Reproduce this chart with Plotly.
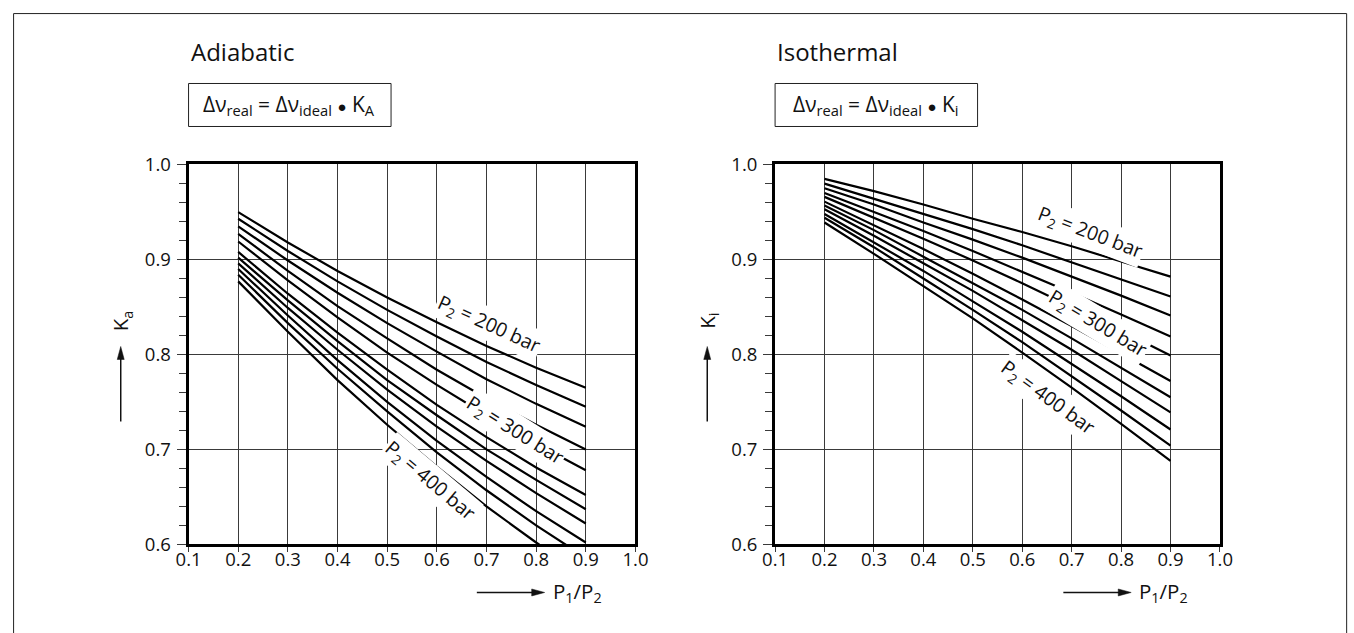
import plotly.graph_objects as go

# ---------------- data ----------------
p_ratio = [0.2, 0.3, 0.4, 0.5, 0.6, 0.7, 0.8, 0.9]

ka_200 = [0.950, 0.918, 0.888, 0.860, 0.834, 0.809, 0.786, 0.765]
ka_220 = [0.943, 0.909, 0.877, 0.847, 0.819, 0.792, 0.768, 0.745]
ka_240 = [0.935, 0.899, 0.865, 0.833, 0.803, 0.774, 0.748, 0.724]
ka_260 = [0.927, 0.888, 0.851, 0.817, 0.784, 0.754, 0.726, 0.700]
ka_280 = [0.919, 0.878, 0.839, 0.802, 0.768, 0.736, 0.706, 0.678]
ka_300 = [0.908, 0.864, 0.823, 0.784, 0.747, 0.713, 0.681, 0.652]
ka_320 = [0.902, 0.857, 0.814, 0.773, 0.736, 0.700, 0.668, 0.637]
ka_340 = [0.896, 0.849, 0.805, 0.763, 0.724, 0.688, 0.654, 0.622]
ka_360 = [0.890, 0.841, 0.794, 0.750, 0.709, 0.671, 0.635, 0.602]
ka_380 = [0.884, 0.833, 0.785, 0.740, 0.697, 0.657, 0.620, 0.586]
ka_400 = [0.877, 0.824, 0.773, 0.726, 0.682, 0.640, 0.602, 0.566]
ka_series = [ka_200, ka_220, ka_240, ka_260, ka_280, ka_300,
             ka_320, ka_340, ka_360, ka_380, ka_400]

ki_200 = [0.985, 0.972, 0.958, 0.943, 0.929, 0.914, 0.898, 0.882]
ki_220 = [0.980, 0.964, 0.948, 0.932, 0.915, 0.897, 0.879, 0.861]
ki_240 = [0.975, 0.958, 0.939, 0.921, 0.902, 0.882, 0.862, 0.841]
ki_260 = [0.970, 0.950, 0.930, 0.909, 0.887, 0.865, 0.842, 0.819]
ki_280 = [0.966, 0.944, 0.922, 0.899, 0.875, 0.850, 0.825, 0.799]
ki_300 = [0.961, 0.936, 0.911, 0.885, 0.858, 0.830, 0.801, 0.772]
ki_320 = [0.957, 0.931, 0.903, 0.875, 0.847, 0.817, 0.786, 0.755]
ki_340 = [0.953, 0.925, 0.896, 0.867, 0.836, 0.805, 0.772, 0.739]
ki_360 = [0.948, 0.918, 0.888, 0.856, 0.824, 0.790, 0.756, 0.721]
ki_380 = [0.944, 0.913, 0.880, 0.847, 0.813, 0.777, 0.741, 0.704]
ki_400 = [0.939, 0.906, 0.872, 0.838, 0.802, 0.765, 0.727, 0.688]
ki_series = [ki_200, ki_220, ki_240, ki_260, ki_280, ki_300,
             ki_320, ki_340, ki_360, ki_380, ki_400]

x_ticks = [0.1, 0.2, 0.3, 0.4, 0.5, 0.6, 0.7, 0.8, 0.9, 1.0]
x_ticklabels = ["0.1", "0.2", "0.3", "0.4", "0.5", "0.6", "0.7", "0.8", "0.9", "1.0"]
y_ticks = [0.6, 0.7, 0.8, 0.9, 1.0]
y_ticklabels = ["0.6", "0.7", "0.8", "0.9", "1.0"]
y_minor = [0.62, 0.64, 0.66, 0.68, 0.72, 0.74, 0.76, 0.78,
           0.82, 0.84, 0.86, 0.88, 0.92, 0.94, 0.96, 0.98]

titles = ["Adiabatic", "Isothermal"]
BULLET = "<span style='font-size:15px'>●</span>"
formulas = ["Δν<sub>real</sub> = Δν<sub>ideal</sub> " + BULLET + " K<sub>A</sub>",
            "Δν<sub>real</sub> = Δν<sub>ideal</sub> " + BULLET + " K<sub>i</sub>"]
y_titles = ["K<sub>a</sub>", "K<sub>i</sub>"]
x_title = "P<sub>1</sub>/P<sub>2</sub>"
p2_labels = ["P<sub>2</sub> = 200 bar", "P<sub>2</sub> = 300 bar", "P<sub>2</sub> = 400 bar"]
# label anchor points (data coordinates) and angles
ka_label_pos = [(0.706, 0.832, 24.5), (0.758, 0.720, 32), (0.586, 0.667, 40)]
ki_label_pos = [(0.737, 0.928, 21), (0.753, 0.833, 31), (0.652, 0.755, 36)]

# ---------------- figure ----------------
FONT = "Open Sans"
INK = "#111111"
W, H = 1378, 657                 # figure size in page pixels
OX, OY = 12.0, 12.5              # where the page origin lands in the picture
SX, SY = 0.9836, 0.9635          # page px -> picture px


def fx(p):
    """picture x pixel -> paper fraction"""
    return ((p - OX) / SX) / W


def fy(p):
    """picture y pixel -> paper fraction"""
    return 1 - ((p - OY) / SY) / H


fig = go.Figure()

for ys in ka_series:
    fig.add_trace(go.Scatter(x=p_ratio, y=ys, mode="lines", xaxis="x", yaxis="y",
                             line=dict(color="black", width=2.2),
                             showlegend=False, hoverinfo="skip"))
for ys in ki_series:
    fig.add_trace(go.Scatter(x=p_ratio, y=ys, mode="lines", xaxis="x2", yaxis="y2",
                             line=dict(color="black", width=2.2),
                             showlegend=False, hoverinfo="skip"))

xax = dict(range=[0.1, 1.0], tickmode="array", tickvals=x_ticks, ticktext=x_ticklabels,
           showgrid=True, gridcolor="#3a3a3a", gridwidth=1,
           showline=True, linecolor="black", linewidth=3, mirror=True,
           ticks="outside", ticklen=5, tickwidth=1, tickcolor="#3a3a3a",
           tickfont=dict(family=FONT, size=18.5, color=INK), ticklabelstandoff=-9,
           zeroline=False, fixedrange=True)
yax = dict(range=[0.5999, 1.0001], tickmode="array", tickvals=y_ticks, ticktext=y_ticklabels,
           showgrid=True, gridcolor="#3a3a3a", gridwidth=1,
           showline=True, linecolor="black", linewidth=3, mirror=True,
           ticks="outside", ticklen=9, tickwidth=1, tickcolor="#3a3a3a",
           tickfont=dict(family=FONT, size=18.5, color=INK), ticklabelstandoff=2,
           minor=dict(tickmode="array", tickvals=y_minor, ticks="outside", ticklen=7,
                      tickwidth=1, tickcolor="#3a3a3a", showgrid=False),
           zeroline=False, fixedrange=True)

ytop, ybot = fy(164), fy(544)
fig.update_layout(
    width=W, height=H, margin=dict(l=0, r=0, t=0, b=0),
    paper_bgcolor="white", plot_bgcolor="white", showlegend=False,
    font=dict(family=FONT, color=INK),
    xaxis=dict(xax, domain=[fx(188), fx(636)], anchor="y"),
    yaxis=dict(yax, domain=[ybot, ytop], anchor="x"),
    xaxis2=dict(xax, domain=[fx(776), fx(1222)], anchor="y2"),
    yaxis2=dict(yax, domain=[ybot, ytop], anchor="x2"),
)

shapes = []
annotations = []
# outer frame (left/top edges pushed as close to the picture edge as possible)
shapes.append(dict(type="rect", xref="paper", yref="paper",
                   x0=0.6 / W, x1=fx(1349), y0=-0.05, y1=1 - 0.6 / H,
                   line=dict(color="#222", width=1)))


def tri(points):
    s = "M " + " L ".join(f"{fx(a):.5f} {fy(b):.5f}" for a, b in points) + " Z"
    return dict(type="path", xref="paper", yref="paper", path=s,
                fillcolor=INK, line=dict(color=INK, width=0.5))


panel_left = [188, 776]
for k in range(2):
    L = panel_left[k]
    annotations.append(dict(xref="paper", yref="paper", x=fx(L), y=fy(51), xanchor="left", yanchor="middle",
                            text=titles[k], showarrow=False, font=dict(size=24, family=FONT, color=INK)))
    shapes.append(dict(type="rect", xref="paper", yref="paper", x0=fx(L), x1=fx(L + 203), y0=fy(126), y1=fy(83),
                       line=dict(color="#222", width=1), fillcolor="white", layer="below"))
    annotations.append(dict(xref="paper", yref="paper", x=fx(L + 101), y=fy(105), xanchor="center", yanchor="middle",
                            text=formulas[k], showarrow=False, font=dict(size=21, family=FONT, color=INK)))
    # y title with arrow
    ax_x = L - 68
    annotations.append(dict(xref="paper", yref="paper", x=fx(L - 67), y=fy(320), xanchor="center", yanchor="middle",
                            text=y_titles[k], textangle=-90, showarrow=False,
                            font=dict(size=20.5, family=FONT, color=INK)))
    shapes.append(dict(type="line", xref="paper", yref="paper", x0=fx(ax_x), x1=fx(ax_x), y0=fy(421), y1=fy(356),
                       line=dict(color=INK, width=1.5)))
    shapes.append(tri([(ax_x - 3.5, 359), (ax_x, 346), (ax_x + 3.5, 359)]))
    # x title with arrow
    annotations.append(dict(xref="paper", yref="paper", x=fx(L + 363), y=fy(592), xanchor="left", yanchor="middle",
                            text=x_title, showarrow=False, font=dict(size=20.5, family=FONT, color=INK)))
    shapes.append(dict(type="line", xref="paper", yref="paper", x0=fx(L + 289), x1=fx(L + 347), y0=fy(592), y1=fy(592),
                       line=dict(color=INK, width=1.5)))
    shapes.append(tri([(L + 344, 588.5), (L + 357, 592), (L + 344, 595.5)]))

for k, (xr, yr, pos) in enumerate([("x", "y", ka_label_pos), ("x2", "y2", ki_label_pos)]):
    for lab, (lx, ly, ang) in zip(p2_labels, pos):
        annotations.append(dict(xref=xr, yref=yr, x=lx, y=ly, text=lab, textangle=ang,
                                showarrow=False, bgcolor="white", borderpad=1,
                                font=dict(size=19.5, family=FONT, color=INK)))

fig.update_layout(shapes=shapes, annotations=annotations)
fig.write_html(
    "out.html",
    post_script=("var gd=document.getElementById('{plot_id}');"
                 "gd.style.position='fixed';gd.style.left='0px';gd.style.top='0px';"
                 "document.body.style.margin='0px';document.body.style.overflow='hidden';"))
